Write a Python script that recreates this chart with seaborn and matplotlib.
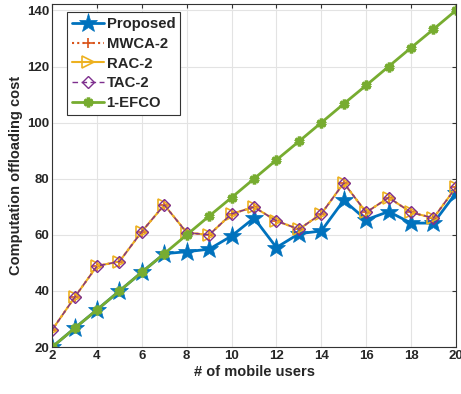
import numpy as np
import pandas as pd
import matplotlib
matplotlib.use("Agg")
import matplotlib.pyplot as plt
import seaborn as sns

users = list(range(2, 21))
proposed = [20, 26.7, 33.3, 40, 46.7, 53.3, 54.0, 54.9, 59.6, 66.0, 55.5, 60.4, 61.4, 72.3, 65.4, 68.3, 64.2, 64.2, 74.9]
mwca2 = [26.1, 37.7, 48.9, 50.5, 61.2, 70.7, 60.8, 60.0, 67.5, 69.9, 65.0, 62.0, 67.5, 78.5, 68.0, 73.3, 68.0, 66.0, 76.9]
rac2 = [26.1, 37.7, 48.9, 50.5, 61.2, 70.7, 60.8, 60.0, 67.5, 69.9, 65.0, 62.0, 67.5, 78.5, 68.0, 73.3, 68.0, 66.0, 76.9]
tac2 = [26.1, 37.7, 48.9, 50.5, 61.2, 70.7, 60.8, 60.0, 67.5, 69.9, 65.0, 62.0, 67.5, 78.5, 68.0, 73.3, 68.0, 66.0, 76.9]
efco1 = [20, 26.7, 33.3, 40, 46.7, 53.3, 60, 66.7, 73.3, 80, 86.7, 93.3, 100, 106.7, 113.3, 120, 126.7, 133.3, 140]

names = ["Proposed", "MWCA-2", "RAC-2", "TAC-2", "1-EFCO"]
series = [proposed, mwca2, rac2, tac2, efco1]

df = pd.DataFrame({
    "users": users * len(names),
    "cost": [v for s in series for v in s],
    "method": [n for n in names for _ in users],
})

palette = {"Proposed": "#0072BD", "MWCA-2": "#D95319", "RAC-2": "#EDB120",
           "TAC-2": "#7E2F8E", "1-EFCO": "#77AC30"}
dashes = {"Proposed": "", "MWCA-2": (1, 1.5), "RAC-2": "", "TAC-2": (4, 2.5), "1-EFCO": ""}

# per-line look, applied after seaborn draws
line_kw = {
    "Proposed": dict(m="*", lw=2, ms=14, mew=0.5, mfc=None),
    "MWCA-2": dict(m="+", lw=1.5, ms=7, mew=1.2, mfc=None),
    "RAC-2": dict(m=">", lw=1.5, ms=8, mew=1.2, mfc="none"),
    "TAC-2": dict(m="D", lw=1, ms=6, mew=1, mfc="none"),
    "1-EFCO": dict(m=(6, 2, 0), lw=2, ms=7, mew=2.5, mfc=None),
}

sns.set_style("whitegrid")
plt.rcParams['font.family'] = ['Liberation Sans', 'DejaVu Sans']
plt.rcParams['font.weight'] = 'bold'

fig = plt.figure(figsize=(4.61, 3.94), dpi=100)
ax = fig.add_axes([0.113, 0.119, 0.876, 0.871])

sns.lineplot(data=df, x="users", y="cost", hue="method", style="method",
             hue_order=names, style_order=names, palette=palette,
             markers=True, dashes=dashes, ax=ax, legend=False)

for line, name in zip(ax.lines, names):
    kw = line_kw[name]
    line.set_marker(kw["m"])
    line.set_linewidth(kw["lw"])
    line.set_markersize(kw["ms"])
    line.set_markeredgewidth(kw["mew"])
    line.set_markeredgecolor(palette[name])
    if kw["mfc"] is not None:
        line.set_markerfacecolor(kw["mfc"])
    else:
        line.set_markerfacecolor(palette[name])
    line.set_label(name)

ax.set_xlim(2, 20)
ax.set_ylim(20, 142.3)
ax.set_xticks(range(2, 21, 2))
ax.set_yticks(range(20, 141, 20))
ax.grid(True, color="#e3e3e3", linewidth=0.8)
ax.tick_params(axis="both", direction="in", top=True, right=True, labelsize=9.5, length=3, color="#333333", pad=2)
for s in ax.spines.values():
    s.set_color("#333333")
    s.set_linewidth(0.8)
for lab in ax.get_xticklabels() + ax.get_yticklabels():
    lab.set_fontweight("bold")
ax.set_xlabel("# of mobile users", fontsize=10.5, fontweight="bold", labelpad=2)
ax.set_ylabel("Computation offloading cost", fontsize=10.5, fontweight="bold", labelpad=3)

leg = ax.legend(handles=list(ax.lines), labels=names, loc="upper left", bbox_to_anchor=(0.03, 0.985),
                fontsize=10.7, handlelength=2.1, frameon=True, fancybox=False, edgecolor="#333333",
                framealpha=1, borderpad=0.35, labelspacing=0.38, handletextpad=0.2, borderaxespad=0.2)
for t in leg.get_texts():
    t.set_fontweight("bold")
leg.get_frame().set_linewidth(0.8)

fig.savefig("out.png", dpi=100)
